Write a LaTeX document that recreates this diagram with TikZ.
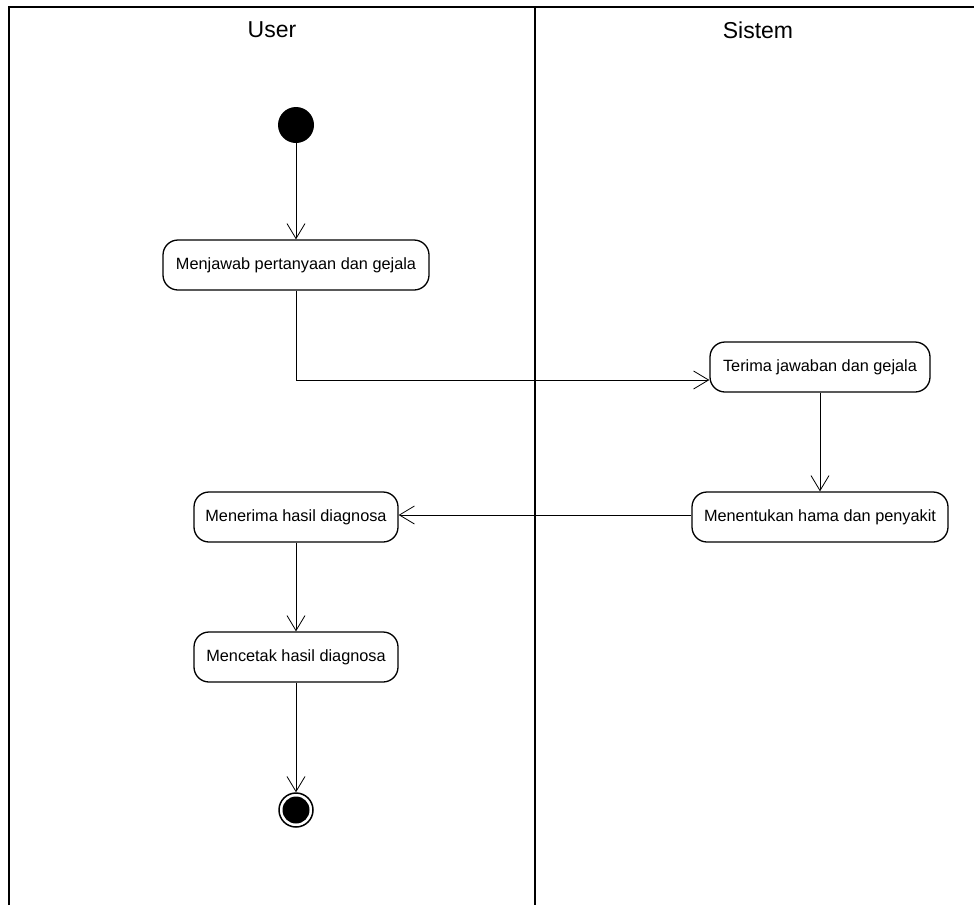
\documentclass[tikz,border=0pt]{standalone}
\usepackage{fontspec}
\setmainfont{Liberation Sans}
\usetikzlibrary{arrows.meta}
\begin{document}
\begin{tikzpicture}[x=1pt,y=-1pt,
  lane/.style={line width=2pt},
  act/.style={draw,rounded corners=15pt,line width=1.3pt,minimum height=50pt,inner sep=2pt,font=\fontsize{16.3}{19}\selectfont},
  flow/.style={line width=0.8pt,-{Straight Barb[length=15pt,width=18pt,line width=0.8pt]}},
  lanetitle/.style={font=\fontsize{23}{27}\selectfont}]
  \useasboundingbox (0,0) rectangle (974,905);
  % swimlane frame
  \draw[lane] (9,905) -- (9,7) -- (974,7);
  \draw[lane] (535,7) -- (535,905);
  \node[lanetitle] (userlane) at (272,30) {User};
  \node[lanetitle] (sistemlane) at (758,30) {Sistem};
  % initial and final states
  \node[circle,fill,minimum size=36pt,inner sep=0] (start) at (296,125) {};
  \node[circle,draw,line width=1.5pt,minimum size=34pt,inner sep=0] (stop) at (296,810) {};
  \node[circle,fill,minimum size=27pt,inner sep=0] (stopdot) at (296,810) {};
  % activities
  \node[act,minimum width=266pt] (jawab) at (296,265) {Menjawab pertanyaan dan gejala};
  \node[act,minimum width=220pt] (terima) at (820,367) {Terima jawaban dan gejala};
  \node[act,minimum width=256pt] (tentukan) at (820,517) {Menentukan hama dan penyakit};
  \node[act,minimum width=204pt] (hasil) at (296,517) {Menerima hasil diagnosa};
  \node[act,minimum width=204pt] (cetak) at (296,657) {Mencetak hasil diagnosa};
  % transitions
  \draw[flow] (start) -- (jawab);
  \draw[flow] (jawab.south) |- ([yshift=-13pt]terima.west);
  \draw[flow] (terima) -- (tentukan);
  \draw[flow] ([yshift=2pt]tentukan.west) -- ([yshift=2pt]hasil.east);
  \draw[flow] (hasil) -- (cetak);
  \draw[flow] (cetak) -- (stop);
\end{tikzpicture}
\end{document}
